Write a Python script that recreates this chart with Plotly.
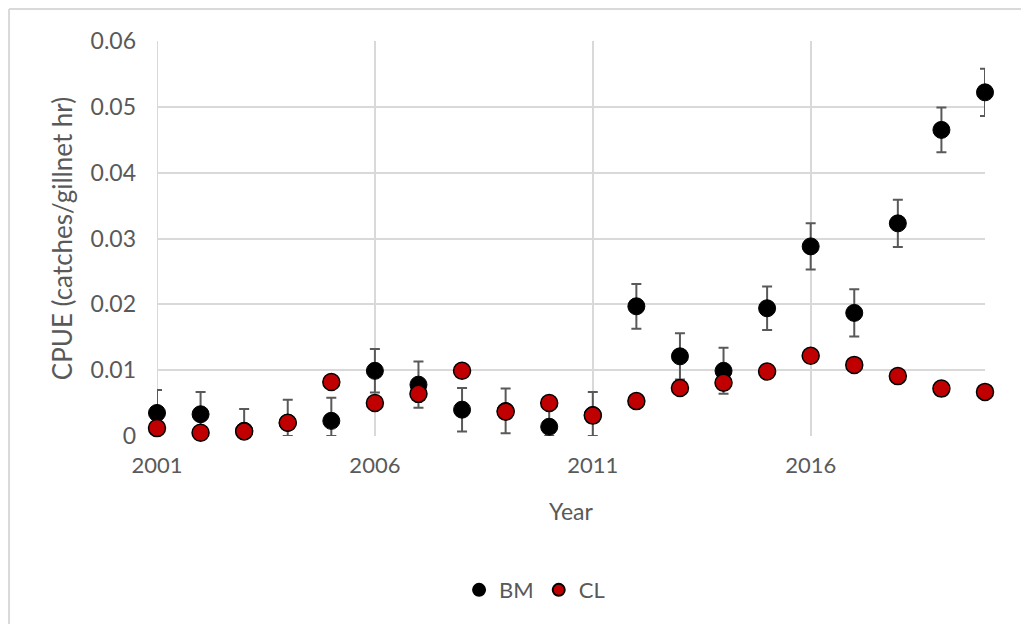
import plotly.graph_objects as go

years = list(range(2001, 2021))
bm = [0.0035, 0.0033, 0.0008, 0.0020, 0.0023, 0.0099, 0.0078, 0.0040, 0.0038, 0.0014,
      0.0032, 0.0197, 0.0121, 0.0099, 0.0194, 0.0288, 0.0187, 0.0323, 0.0465, 0.0522]
bm_err = [0.0035, 0.0034, 0.0033, 0.0035, 0.0035, 0.0033, 0.0035, 0.0033, 0.0034, 0.0033,
          0.0035, 0.0034, 0.0035, 0.0035, 0.0033, 0.0035, 0.0036, 0.0036, 0.0034, 0.0036]
bm_err_minus = [min(e, v) for e, v in zip(bm_err, bm)]
cl = [0.0012, 0.0005, 0.0007, 0.0020, 0.0082, 0.0050, 0.0064, 0.0099, 0.0037, 0.0050,
      0.0031, 0.0053, 0.0073, 0.0081, 0.0098, 0.0122, 0.0108, 0.0091, 0.0072, 0.0067]

font_family = "Lato, Open Sans, sans-serif"
gray_text = "#595959"

fig = go.Figure()
fig.add_trace(go.Scatter(
    x=years, y=bm, mode="markers", name="BM",
    marker=dict(color="black", size=17, line=dict(color="black", width=1)),
    error_y=dict(type="data", array=bm_err, arrayminus=bm_err_minus, symmetric=False,
                 color="#595959", thickness=2, width=5),
    cliponaxis=False,
))
fig.add_trace(go.Scatter(
    x=years, y=cl, mode="markers", name="CL",
    marker=dict(color="#c00000", size=17, line=dict(color="black", width=1.5)),
    cliponaxis=False,
))

fig.update_layout(
    width=1013, height=616,
    margin=dict(l=149, r=36, t=33, b=188),
    paper_bgcolor="white", plot_bgcolor="white",
    font=dict(family=font_family, size=22, color=gray_text),
    showlegend=True,
    legend=dict(orientation="h", x=0.456, xanchor="center", y=-0.39, yanchor="middle",
                font=dict(size=22, color=gray_text), itemsizing="constant"),
    xaxis=dict(
        range=[2001, 2020], tickmode="linear", tick0=2001, dtick=5,
        showgrid=True, gridcolor="#d9d9d9", gridwidth=2, automargin=False,
        zeroline=False, showline=False, ticks="", ticklabelstandoff=14,
        title=dict(text="Year", font=dict(size=23, color=gray_text), standoff=26),
        tickfont=dict(size=22, color=gray_text),
    ),
    yaxis=dict(
        range=[0, 0.06], automargin=False,
        tickvals=[0, 0.01, 0.02, 0.03, 0.04, 0.05, 0.06],
        ticktext=["0", "0.01", "0.02", "0.03", "0.04", "0.05", "0.06"],
        showgrid=True, gridcolor="#d9d9d9", gridwidth=2,
        zeroline=False, showline=False, ticks="", ticklabelstandoff=20,
        title=dict(text="CPUE (catches/gillnet hr)", font=dict(size=26, color=gray_text), standoff=10),
        tickfont=dict(size=23, color=gray_text),
    ),
    shapes=[
        dict(type="line", xref="paper", yref="paper", x0=-0.1787, x1=1.1, y0=1.081, y1=1.081,
             line=dict(color="#d9d9d9", width=2)),
        dict(type="line", xref="paper", yref="paper", x0=-0.1787, x1=-0.1787, y0=-0.6, y1=1.081,
             line=dict(color="#d9d9d9", width=2)),
        dict(type="line", xref="x", yref="paper", x0=2001, x1=2001, y0=0, y1=1,
             line=dict(color="#d9d9d9", width=2), layer="below"),
    ],
)

fig.write_html("out.html")
